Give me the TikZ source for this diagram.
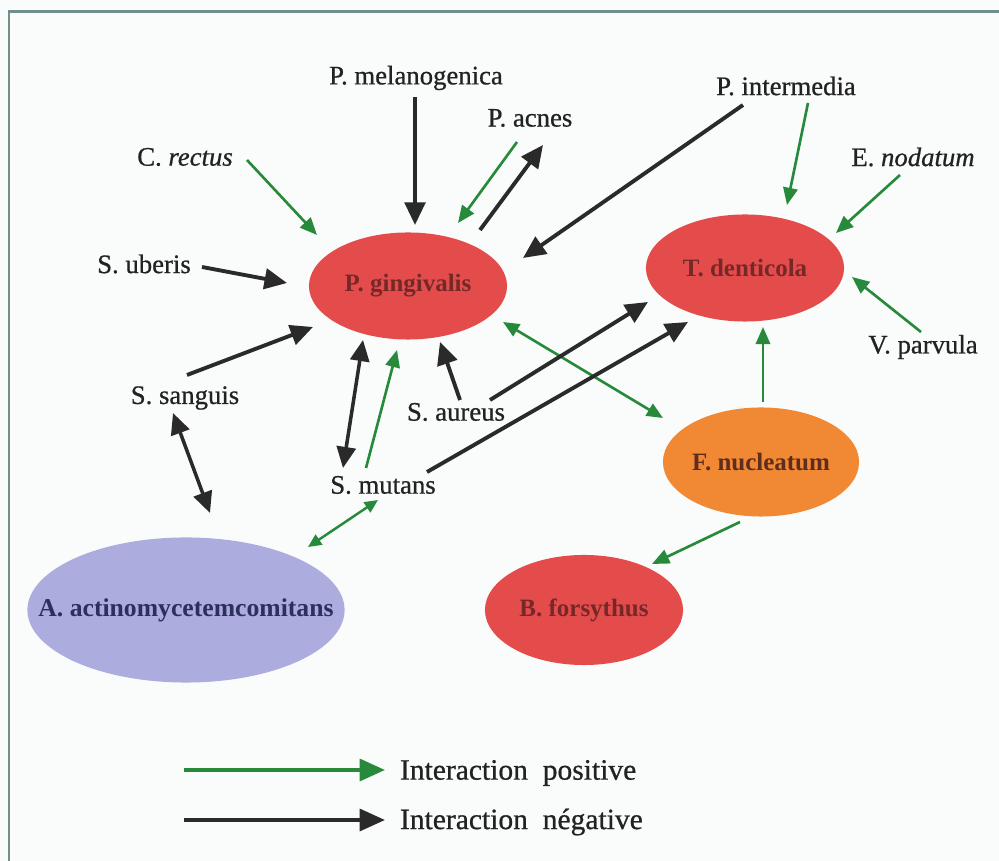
\documentclass[tikz,border=0pt]{standalone}
\usepackage{fontspec}
\setmainfont{Liberation Serif}
\newfontfamily\labfont{Liberation Serif}[FakeBold=0.7]
\usetikzlibrary{arrows.meta,shapes.geometric,calc}
\definecolor{posgreen}{RGB}{38,138,58}
\definecolor{negdark}{RGB}{42,42,42}
\definecolor{ellred}{RGB}{228,76,76}
\definecolor{ellorange}{RGB}{240,136,52}
\definecolor{elllav}{RGB}{172,172,222}
\definecolor{ellredtxt}{RGB}{118,40,40}
\definecolor{ellorgtxt}{RGB}{96,44,30}
\definecolor{elllavtxt}{RGB}{44,48,92}
\definecolor{framecol}{RGB}{112,142,140}
\definecolor{labtxt}{RGB}{34,34,34}
\definecolor{bgcol}{RGB}{250,251,251}
\tikzset{
  lab/.style={inner sep=0pt, outer sep=0pt, text=labtxt, font=\labfont\fontsize{7.6}{9}\selectfont},
  leglab/.style={inner sep=0pt, outer sep=0pt, anchor=west, text=labtxt, font=\labfont\fontsize{8.4}{10}\selectfont},
  bact/.style={ellipse, inner sep=0pt, outer sep=0pt, draw=none, font=\fontsize{7.1}{9}\selectfont\bfseries},
  redbact/.style={bact, fill=ellred, text=ellredtxt, minimum width=1.98cm, minimum height=1.07cm},
  negarr/.style={draw=negdark, line width=1.1pt, -{Triangle[length=6.4pt,width=5.8pt]}},
  negboth/.style={draw=negdark, line width=1.0pt, {Triangle[length=6pt,width=5.4pt]}-{Triangle[length=6pt,width=5.4pt]}},
  posarr/.style={draw=posgreen, line width=0.75pt, -{Triangle[length=4.9pt,width=4.1pt]}},
  posboth/.style={draw=posgreen, line width=0.75pt, {Triangle[length=4.6pt,width=3.9pt]}-{Triangle[length=4.6pt,width=3.9pt]}},
  possmall/.style={draw=posgreen, line width=0.7pt, {Triangle[length=3.8pt,width=3.4pt]}-{Triangle[length=3.8pt,width=3.4pt]}},
  legposarr/.style={draw=posgreen, line width=1.1pt, -{Triangle[length=7.2pt,width=6.2pt]}},
  legnegarr/.style={draw=negdark, line width=1.1pt, -{Triangle[length=7.2pt,width=6.2pt]}}
}
\begin{document}
\begin{tikzpicture}[x=0.01cm, y=-0.01cm]
\useasboundingbox (0,0) rectangle (999,861);
\fill[bgcol] (0,0) rectangle (999,861);
\draw[framecol, line width=0.85pt] (9,861) -- (9,12) -- (999,12);

% bacteria ellipses
\node[redbact] (pg) at (408,286) {P. gingivalis};
\node[redbact] (td) at (745,268) {T. denticola};
\node[bact, fill=ellorange, text=ellorgtxt, minimum width=1.96cm, minimum height=1.09cm] (fn) at (761,462) {F. nucleatum};
\node[redbact, minimum height=1.1cm] (bf) at (584,610) {B. forsythus};
\node[bact, fill=elllav, text=elllavtxt, inner xsep=-0.4cm, minimum width=3.17cm, minimum height=1.45cm, font=\fontsize{7.3}{9}\selectfont\bfseries] (aa) at (186,610) {A. actinomycetemcomitans};

% labels
\node[lab] (melano) at (416,78) {P. melanogenica};
\node[lab] (acnes) at (530,118) {P. acnes};
\node[lab] (crectus) at (185,157) {C. \textit{rectus}};
\node[lab] (pinter) at (786,86) {P. intermedia};
\node[lab] (enod) at (913,157) {E. \textit{nodatum}};
\node[lab] (uberis) at (144,264) {S. uberis};
\node[lab] (vparv) at (923,347) {V. parvula};
\node[lab] (sang) at (185,398) {S. sanguis};
\node[lab] (aureus) at (456,412) {S. aureus};
\node[lab] (mutans) at (383,485) {S. mutans};

% interactions
\draw[negarr] ($(melano)+(-1,19)$) -- ($(pg)+(7,-61)$);
\draw[negarr] ($(pg)+(72,-56)$) -- ($(acnes)+(13,27)$);
\draw[posarr] ($(acnes)+(-13,24)$) -- ($(pg)+(50,-63)$);
\draw[posarr] ($(crectus)+(62,3)$) -- ($(pg)+(-91,-51)$);
\draw[negarr] ($(uberis)+(58,3)$) -- ($(pg)+(-121,-3)$);
\draw[negarr] ($(sang)+(2,-23)$) -- ($(pg)+(-95,41)$);
\draw[negarr] ($(pinter)+(-43,19)$) -- ($(pg)+(115,-28)$);
\draw[posarr] ($(pinter)+(22,17)$) -- ($(td)+(42,-63)$);
\draw[posarr] ($(enod)+(-13,18)$) -- ($(td)+(91,-35)$);
\draw[posarr] ($(vparv)+(-2,-15)$) -- ($(td)+(107,9)$);
\draw[posarr] ($(fn)+(2,-60)$) -- ($(td)+(18,59)$);
\draw[posboth] ($(pg)+(95,36)$) -- ($(fn)+(-98,-44)$);
\draw[negarr] ($(aureus)+(4,-12)$) -- ($(pg)+(32,56)$);
\draw[negarr] ($(aureus)+(34,-12)$) -- ($(td)+(-97,34)$);
\draw[negarr] ($(mutans)+(44,-13)$) -- ($(td)+(-57,54)$);
\draw[negboth] ($(mutans)+(-40,-17)$) -- ($(pg)+(-45,54)$);
\draw[posarr] ($(mutans)+(-17,-17)$) -- ($(pg)+(-11,64)$);
\draw[negboth] ($(sang)+(-12,15)$) -- ($(aa)+(24,-97)$);
\draw[possmall] ($(mutans)+(-5,15)$) -- ($(aa)+(122,-63)$);
\draw[posarr] ($(fn)+(-21,60)$) -- ($(bf)+(68,-46)$);

% legend
\node[leglab] (legp) at (400,773) {Interaction\hspace{0.5em}positive};
\node[leglab] (legn) at (400,822) {Interaction\hspace{0.5em}négative};
\coordinate (lps) at (184,770);
\coordinate (lns) at (184,820);
\draw[legposarr] (lps) -- ($(legp.west)+(-15,-3)$);
\draw[legnegarr] (lns) -- ($(legn.west)+(-15,-2)$);
\end{tikzpicture}
\end{document}
